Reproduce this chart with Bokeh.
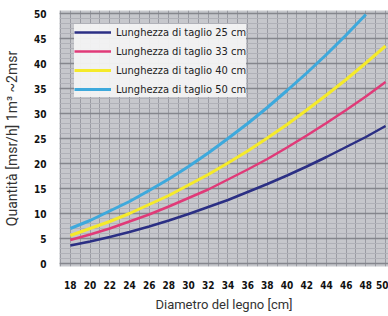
from bokeh.plotting import figure
from bokeh.models import (FixedTicker, SingleIntervalTicker, Legend, LegendItem, Range1d)
from bokeh.embed import file_html
from bokeh.resources import INLINE

diam = [18, 20, 22, 24, 26, 28, 30, 32, 34, 36, 38, 40, 42, 44, 46, 48, 50]
q25 = [3.6, 4.4, 5.3, 6.3, 7.4, 8.6, 9.9, 11.3, 12.7, 14.3, 15.9, 17.6, 19.4, 21.3, 23.3, 25.3, 27.5]
q33 = [4.7, 5.8, 7.0, 8.4, 9.8, 11.4, 13.1, 14.8, 16.8, 18.8, 20.9, 23.2, 25.6, 28.1, 30.7, 33.4, 36.3]
q40 = [5.6, 7.0, 8.4, 10.0, 11.8, 13.6, 15.7, 17.8, 20.1, 22.5, 25.1, 27.8, 30.7, 33.7, 36.8, 40.1, 43.5]
diam50 = [18, 20, 22, 24, 26, 28, 30, 32, 34, 36, 38, 40, 42, 44, 46, 48]
q50 = [7.0, 8.6, 10.5, 12.4, 14.6, 16.9, 19.4, 22.1, 25.0, 28.0, 31.2, 34.6, 38.1, 41.8, 45.7, 49.8]

labels = ["Lunghezza di taglio 25 cm", "Lunghezza di taglio 33 cm",
          "Lunghezza di taglio 40 cm", "Lunghezza di taglio 50 cm"]
colors = ["#2b2f84", "#e03a78", "#f5ea2a", "#3ea9dc"]

x_ticks = list(range(18, 51, 2))
x_grid = list(range(17, 51))

COND = "'DejaVu Sans Condensed', 'DejaVu Sans'"

p = figure(width=388, height=316, output_backend="svg", toolbar_location=None,
           x_range=Range1d(16.9, 50.3), y_range=Range1d(-0.6, 50.6),
           min_border_left=55, min_border_right=0, min_border_top=10, min_border_bottom=50,
           background_fill_color="#c6c7cc", border_fill_color="#ffffff")
p.outline_line_color = None

p.xaxis.ticker = FixedTicker(ticks=x_ticks)
p.yaxis.ticker = SingleIntervalTicker(interval=5, num_minor_ticks=5)
p.xgrid.ticker = FixedTicker(ticks=x_grid)
p.xgrid.grid_line_color = "#9a9ba3"
p.xgrid.grid_line_width = 1
p.ygrid.grid_line_color = "#85868d"
p.ygrid.grid_line_width = 1.5
p.ygrid.minor_grid_line_color = "#b0b1b8"
p.ygrid.minor_grid_line_width = 1

for ax in (p.xaxis, p.yaxis):
    ax.axis_line_color = None
    ax.major_tick_line_color = None
    ax.minor_tick_line_color = None
    ax.major_label_text_font = COND
    ax.major_label_text_font_style = "bold"
    ax.major_label_text_font_size = "10px"
    ax.major_label_text_color = "#111111"
    ax.axis_label_text_font = "Roboto"
    ax.axis_label_text_font_style = "normal"
    ax.axis_label_text_color = "#333333"

p.yaxis.axis_label = "Quantità [msr/h] 1m³ ~2msr"
p.yaxis.axis_label_text_font_size = "14px"
p.yaxis.major_label_standoff = 7
p.yaxis.axis_label_standoff = 11
p.xaxis.axis_label = "Diametro del legno [cm]"
p.xaxis.axis_label_text_font_size = "13px"
p.xaxis.major_label_standoff = 8
p.xaxis.axis_label_standoff = 5

series = [(diam, q25, 2.5), (diam, q33, 2.5), (diam, q40, 3.0), (diam50, q50, 3.0)]
items = []
for (xs, ys, lw), c, lab in zip(series, colors, labels):
    r = p.line(xs, ys, line_color=c, line_width=lw)
    items.append(LegendItem(label=lab, renderers=[r]))

legend = Legend(items=items, location=(15, 169))
legend.background_fill_color = "#f3f3f3"
legend.background_fill_alpha = 0.95
legend.border_line_color = None
legend.label_text_font = COND
legend.label_text_font_size = "11px"
legend.label_text_color = "#222222"
legend.glyph_width = 37
legend.glyph_height = 16
legend.label_height = 16
legend.spacing = 3
legend.padding = 6
legend.label_standoff = 5
p.add_layout(legend)

open("out.html", "w").write(file_html(p, INLINE))
